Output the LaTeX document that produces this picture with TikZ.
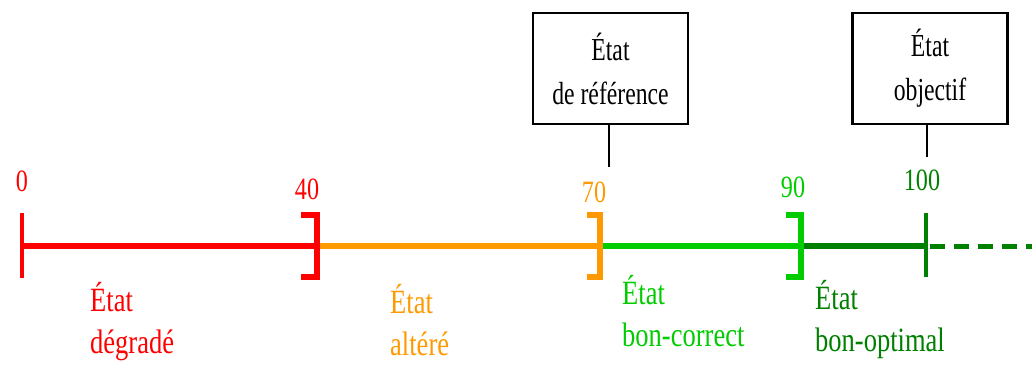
\documentclass[tikz,border=0pt]{standalone}
\usepackage{fontspec}
\setmainfont{Liberation Serif}[FakeStretch=0.78]
\newfontfamily\boxfont{Liberation Serif}[FakeStretch=0.74]
\definecolor{cred}{RGB}{255,0,0}
\definecolor{corange}{RGB}{255,153,0}
\definecolor{cgreen}{RGB}{0,204,0}
\definecolor{cdgreen}{RGB}{0,128,0}
\begin{document}
\begin{tikzpicture}[x=1pt,y=-1pt,
  txt/.style={inner sep=0pt,font=\fontsize{31}{43}\selectfont},
  lab/.style={inner sep=0pt,font=\fontsize{34}{42}\selectfont,align=left,anchor=base west},
  num/.style={txt,anchor=base},
  axis/.style={line width=6pt},
  brk/.style={line width=6.5pt,miter limit=10},
  tickm/.style={line width=4.5pt},
  sbox/.style={draw,line width=2.5pt,minimum width=155pt,minimum height=111pt,inner sep=0pt,align=center,font=\boxfont\fontsize{32}{44}\selectfont},
  conn/.style={line width=2.5pt}]
\useasboundingbox (0,0) rectangle (1032,364);
% axis segments
\coordinate (p0) at (22,246);
\coordinate (p40) at (317,246);
\coordinate (p70) at (600,246);
\coordinate (p90) at (801,246);
\coordinate (p100) at (926,246);
\coordinate (pend) at (1032,246);
\draw[axis,cred] (p0) -- (p40);
\draw[axis,corange] (p40) -- (p70);
\draw[axis,cgreen] (p70) -- (p90);
\draw[axis,cdgreen] (p90) -- (p100);
\draw[line width=5pt,cdgreen,dash pattern=on 15pt off 9pt,dash phase=-4pt] (p100) -- (pend);
% ticks and brackets
\draw[tickm,cred] (22,213) -- (22,278);
\draw[brk,cred] (301,215) -- (317,215) -- (317,277) -- (301,277);
\draw[brk,corange] (587,215) -- (600,215) -- (600,277) -- (587,277);
\draw[brk,cgreen] (786,215) -- (801,215) -- (801,277) -- (786,277);
\draw[tickm,cdgreen] (926,213) -- (926,277);
% numbers
\node[num,cred] (n0) at (22,191) {0};
\node[num,cred] (n40) at (307,199) {40};
\node[num,corange] (n70) at (594,202) {70};
\node[num,cgreen] (n90) at (793,197) {90};
\node[num,cdgreen] (n100) at (922,190) {100};
% state labels (base anchor = last line)
\node[lab,cred] (s1) at (90,353) {État\\dégradé};
\node[lab,corange] (s2) at (390,355) {État\\altéré};
\node[lab,cgreen] (s3) at (622,346) {État\\bon-correct};
\node[lab,cdgreen] (s4) at (815,351) {État\\bon-optimal};
% boxes
\node[sbox] (ref) at (610.5,68.5) {État\\de référence};
\node[sbox] (obj) at (930,68.5) {État\\objectif};
\coordinate (refend) at (609,167);
\coordinate (objend) at (927,157);
\draw[conn] (ref.south -| refend) -- (refend);
\draw[conn] (obj.south -| objend) -- (objend);
\end{tikzpicture}
\end{document}
